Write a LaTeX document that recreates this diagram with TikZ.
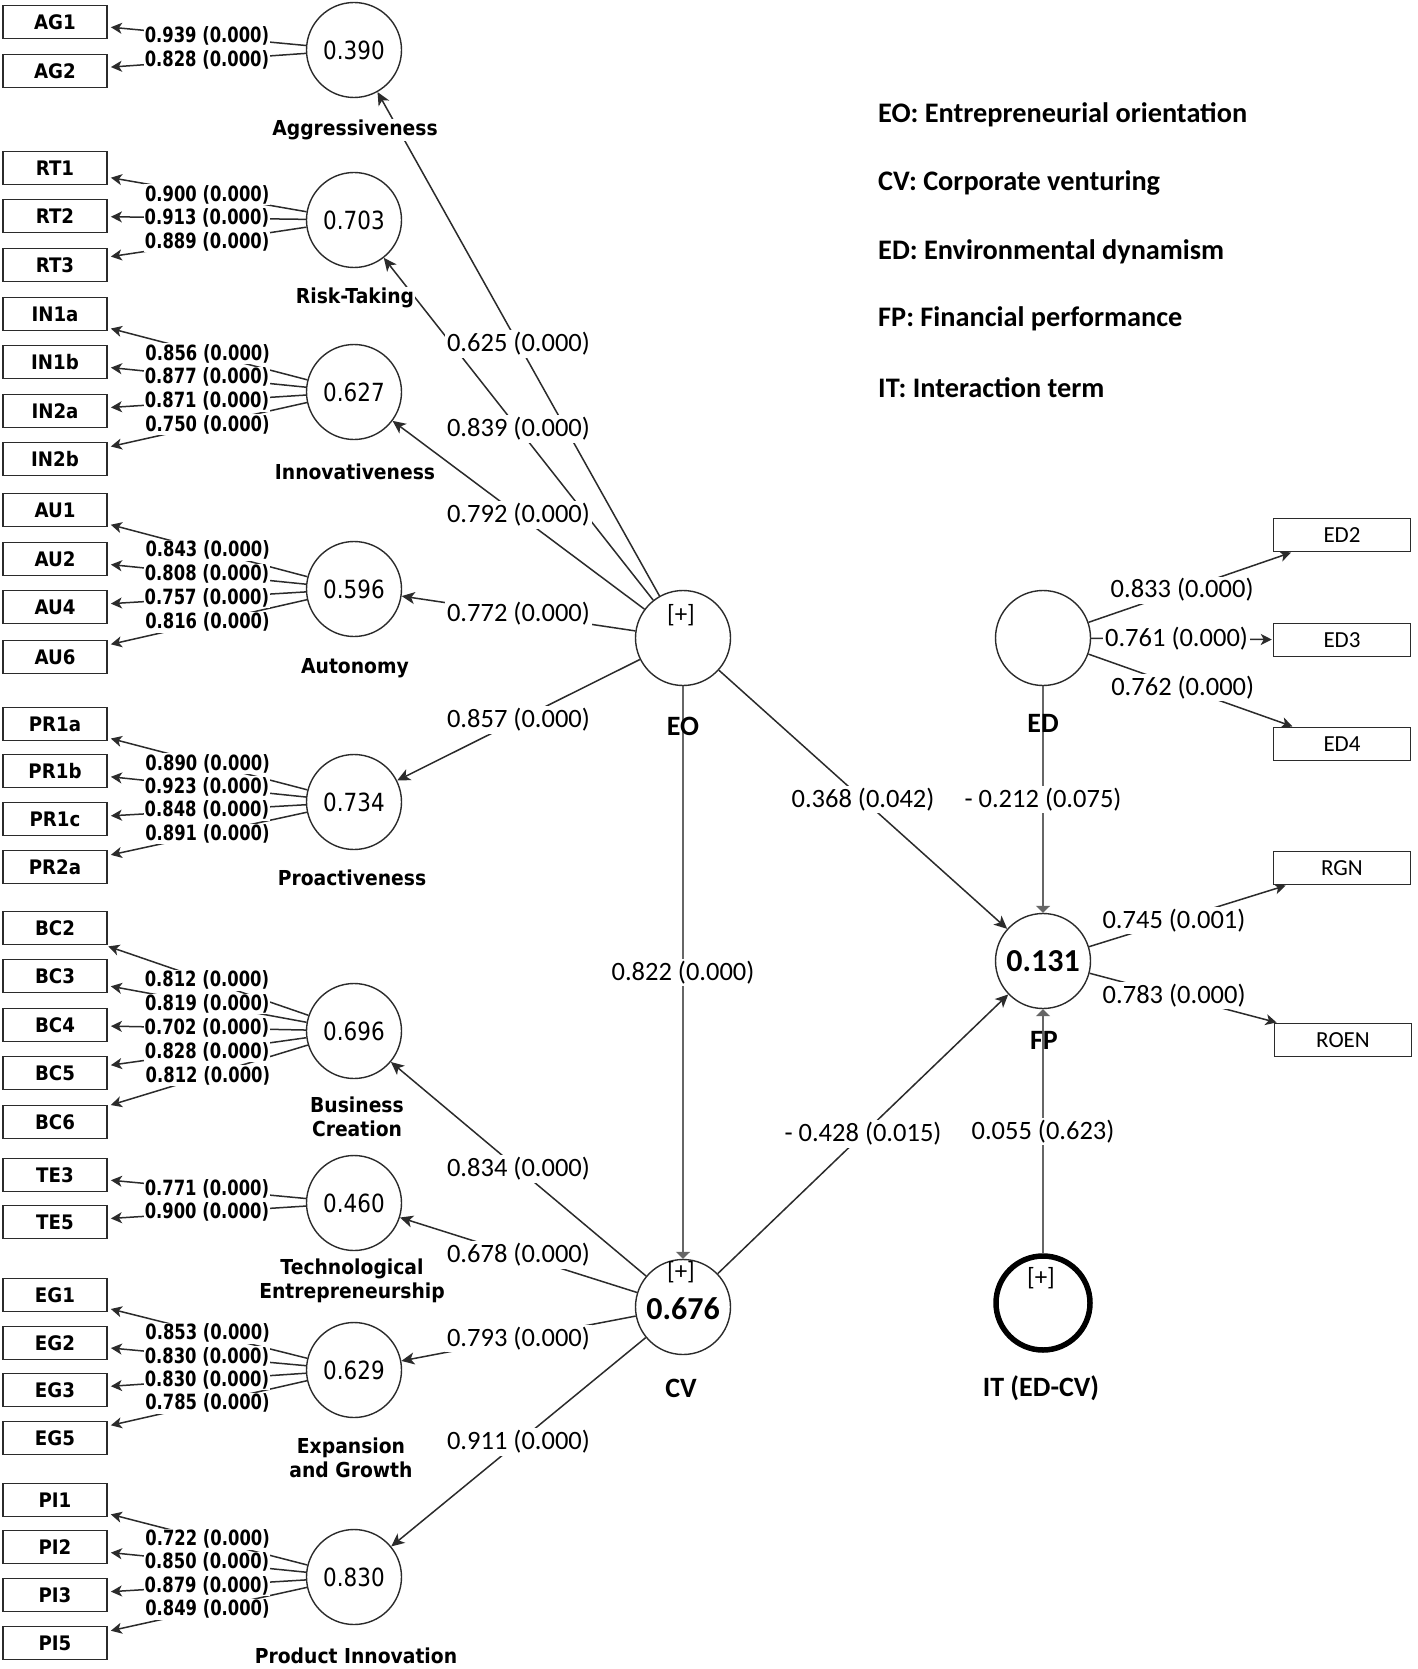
\documentclass[tikz,border=0pt]{standalone}
\usepackage{fontspec}
\usetikzlibrary{arrows.meta}
\newfontfamily\tahfont[FakeStretch=0.91]{DejaVu Sans}
\newfontfamily\tahcfont[FakeStretch=0.78]{DejaVu Sans}
\newfontfamily\tahvfont[FakeStretch=0.86]{DejaVu Sans}
\newfontfamily\calfont{Carlito}
\definecolor{ln}{HTML}{2B2B2B}
\definecolor{vl}{HTML}{666666}
\pgfdeclarelayer{bg}
\pgfdeclarelayer{edges}
\pgfsetlayers{bg,edges,main}
\tikzset{
 lv/.style={circle, draw=ln, line width=1.4pt, fill=white, minimum size=95pt, inner sep=0pt},
 itlv/.style={circle, draw=black, line width=5.5pt, fill=white, minimum size=94pt, inner sep=0pt},
 indbox/.style={rectangle, draw=ln, line width=1.8pt, fill=white, minimum width=104pt, minimum height=33pt, inner sep=0pt, font=\tahfont\bfseries\fontsize{20}{22}\selectfont},
 rbox/.style={rectangle, draw=ln, line width=1.5pt, fill=white, minimum width=137pt, minimum height=33pt, inner sep=0pt, font=\calfont\fontsize{23}{26}\selectfont},
 val/.style={font=\tahvfont\fontsize{25}{26}\selectfont},
 bval/.style={font=\calfont\bfseries\fontsize{32}{34}\selectfont},
 plus/.style={font=\calfont\fontsize{25}{28}\selectfont, inner sep=0pt},
 lvname/.style={font=\tahfont\bfseries\fontsize{20.6}{24}\selectfont, fill=white, inner sep=1pt, align=center},
 bigname/.style={font=\calfont\bfseries\fontsize{28}{30}\selectfont, inner sep=0pt},
 ldg/.style={font=\tahcfont\bfseries\fontsize{21}{22}\selectfont, fill=white, inner sep=1pt},
 pth/.style={font=\calfont\fontsize{26.5}{28}\selectfont, fill=white, inner sep=2pt},
 leg/.style={font=\calfont\bfseries\fontsize{28.3}{30}\selectfont, anchor=west, inner sep=0pt},
 smalltip/.style={-{Stealth[length=11pt,width=11pt,inset=3pt]}},
 pathtip/.style={-{Stealth[length=13pt,width=12pt,inset=3.5pt]}},
 ldarrow/.style={draw=ln, line width=1.5pt, smalltip, shorten >=3pt},
 rldarrow/.style={draw=ln, line width=1.5pt, smalltip, shorten >=1pt},
 patharrow/.style={draw=ln, line width=1.5pt, pathtip},
 varrow/.style={draw=vl, line width=2.2pt, -{Triangle[length=7pt,width=14pt]}},
}
\newcommand\lod[4][0.5]{%
 \begin{pgfonlayer}{edges}\draw[ldarrow] (#2) -- (#3);\end{pgfonlayer}%
 \path (#2) -- (#3) node[pos=#1,ldg]{#4 (0.000)};}
\newcommand\rlod[4][0.5]{%
 \begin{pgfonlayer}{edges}\draw[rldarrow] (#2) -- (#3);\end{pgfonlayer}%
 \path (#2) -- (#3) node[pos=#1,pth]{#4};}
\newcommand\pcoef[4][0.5]{%
 \begin{pgfonlayer}{edges}\draw[patharrow] (#2) -- (#3);\end{pgfonlayer}%
 \path (#2) -- (#3) node[pos=#1,pth]{#4};}

\begin{document}
\begin{tikzpicture}[x=1pt,y=-1pt]
\begin{pgfonlayer}{bg}\fill[white] (0,0) rectangle (1417,1669);\end{pgfonlayer}
\useasboundingbox (0,0) rectangle (1417,1669);

% ---------- first-order constructs ----------
\node[lv,val] (AG) at (354,50) {0.390};
\node[lv,val] (RT) at (354,220) {0.703};
\node[lv,val] (IN) at (354,392) {0.627};
\node[lv,val] (AU) at (354,589) {0.596};
\node[lv,val] (PR) at (354,802) {0.734};
\node[lv,val] (BC) at (354,1031) {0.696};
\node[lv,val] (TE) at (354,1203) {0.460};
\node[lv,val] (EG) at (354,1370) {0.629};
\node[lv,val] (PI) at (354,1577) {0.830};

% ---------- higher-order and other constructs ----------
\node[lv] (EO) at (683,638) {};
\node[lv,bval] (CV) at (683,1307) {};
\node[lv] (ED) at (1043,638) {};
\node[lv,bval] (FP) at (1043,961) {0.131};
\node[itlv] (IT) at (1043,1303) {};

% ---------- indicator boxes (left) ----------
\foreach \n/\y in {AG1/22,AG2/71,RT1/168,RT2/216,RT3/265,IN1a/314,IN1b/362,IN2a/411,IN2b/459,AU1/510,AU2/559,AU4/607,AU6/657,PR1a/724,PR1b/771,PR1c/819,PR2a/867,BC2/928,BC3/976,BC4/1025,BC5/1073,BC6/1122,TE3/1175,TE5/1222,EG1/1295,EG2/1343,EG3/1390,EG5/1438,PI1/1500,PI2/1547,PI3/1595,PI5/1643}
  \node[indbox] (\n) at (55,\y) {\n};

% ---------- indicator boxes (right) ----------
\node[rbox] (ED2) at (1342,535) {ED2};
\node[rbox] (ED3) at (1342,640) {ED3};
\node[rbox] (ED4) at (1342,744) {ED4};
\node[rbox] (RGN) at (1342,868) {RGN};
\node[rbox] (ROEN) at (1343,1040) {ROEN};

% ---------- construct names ----------
\node[lvname] (AGname) at (355,130) {Aggressiveness};
\node[lvname] (RTname) at (355,298) {Risk-Taking};
\node[lvname] (INname) at (355,472) {Innovativeness};
\node[lvname] (AUname) at (355,668) {Autonomy};
\node[lvname] (PRname) at (352,878) {Proactiveness};
\node[lvname] (BCname) at (357,1117) {Business\\Creation};
\node[lvname] (TEname) at (352,1281) {Technological\\Entrepreneurship};
\node[lvname] (EGname) at (351,1458) {Expansion\\and Growth};
\node[lvname] (PIname) at (356,1656) {Product Innovation};

% ---------- loadings (left) ----------
\lod{AG}{AG1}{0.939}
\lod{AG}{AG2}{0.828}
\lod{RT}{RT1}{0.900}
\lod{RT}{RT2}{0.913}
\lod{RT}{RT3}{0.889}
\lod{IN}{IN1a}{0.856}
\lod{IN}{IN1b}{0.877}
\lod{IN}{IN2a}{0.871}
\lod{IN}{IN2b}{0.750}
\lod{AU}{AU1}{0.843}
\lod{AU}{AU2}{0.808}
\lod{AU}{AU4}{0.757}
\lod{AU}{AU6}{0.816}
\lod{PR}{PR1a}{0.890}
\lod{PR}{PR1b}{0.923}
\lod{PR}{PR1c}{0.848}
\lod{PR}{PR2a}{0.891}
\lod{BC}{BC2}{0.812}
\lod{BC}{BC3}{0.819}
\lod{BC}{BC4}{0.702}
\lod{BC}{BC5}{0.828}
\lod{BC}{BC6}{0.812}
\lod{TE}{TE3}{0.771}
\lod{TE}{TE5}{0.900}
\lod{EG}{EG1}{0.853}
\lod{EG}{EG2}{0.830}
\lod{EG}{EG3}{0.830}
\lod{EG}{EG5}{0.785}
\lod{PI}{PI1}{0.722}
\lod{PI}{PI2}{0.850}
\lod{PI}{PI3}{0.879}
\lod{PI}{PI5}{0.849}

% ---------- loadings (right) ----------
\rlod[0.46]{ED}{ED2}{0.833 (0.000)}
\rlod[0.47]{ED}{ED3}{0.761 (0.000)}
\rlod[0.46]{ED}{ED4}{0.762 (0.000)}
\rlod[0.43]{FP}{RGN}{0.745 (0.001)}
\rlod[0.45]{FP}{ROEN}{0.783 (0.000)}

% ---------- structural paths ----------
\pcoef{EO}{AG}{0.625 (0.000)}
\pcoef{EO}{RT}{0.839 (0.000)}
\pcoef{EO}{IN}{0.792 (0.000)}
\pcoef{EO}{AU}{0.772 (0.000)}
\pcoef{EO}{PR}{0.857 (0.000)}
\pcoef{CV}{BC}{0.834 (0.000)}
\pcoef{CV}{TE}{0.678 (0.000)}
\pcoef{CV}{EG}{0.793 (0.000)}
\pcoef{CV}{PI}{0.911 (0.000)}
\pcoef{EO}{FP}{0.368 (0.042)}
\pcoef{CV}{FP}{- 0.428 (0.015)}
\begin{pgfonlayer}{edges}
\draw[varrow] (EO) -- (CV);
\draw[varrow] (ED) -- (FP);
\draw[varrow] (IT) -- (FP);
\end{pgfonlayer}
\path (EO) -- (CV) node[midway,pth] {0.822 (0.000)};
\path (ED) -- (FP) node[midway,pth] {- 0.212 (0.075)};
\path (IT) -- (FP) node[midway,pth] {0.055 (0.623)};

% ---------- texts inside circles ----------
\node[plus] (EOplus) at (681,615) {[+]};
\node[plus] (CVplus) at (681,1272) {[+]};
\node[bval,inner sep=0pt] (CVval) at (683,1309) {0.676};
\node[plus] (ITplus) at (1041,1278) {[+]};

\node[bigname] (EOname) at (683,726) {EO};
\node[bigname] (EDname) at (1043,723) {ED};
\node[bigname] (FPname) at (1044,1040) {FP};
\node[bigname] (CVname) at (681,1388) {CV};
\node[bigname] (ITname) at (1041,1388) {IT (ED-CV)};

% ---------- legend ----------
\node[leg] (L1) at (878,115) {EO: Entrepreneurial orientation};
\node[leg] (L2) at (878,183) {CV: Corporate venturing};
\node[leg] (L3) at (878,252) {ED: Environmental dynamism};
\node[leg] (L4) at (878,319) {FP: Financial performance};
\node[leg] (L5) at (878,388) {IT: Interaction term};
\end{tikzpicture}
\end{document}
